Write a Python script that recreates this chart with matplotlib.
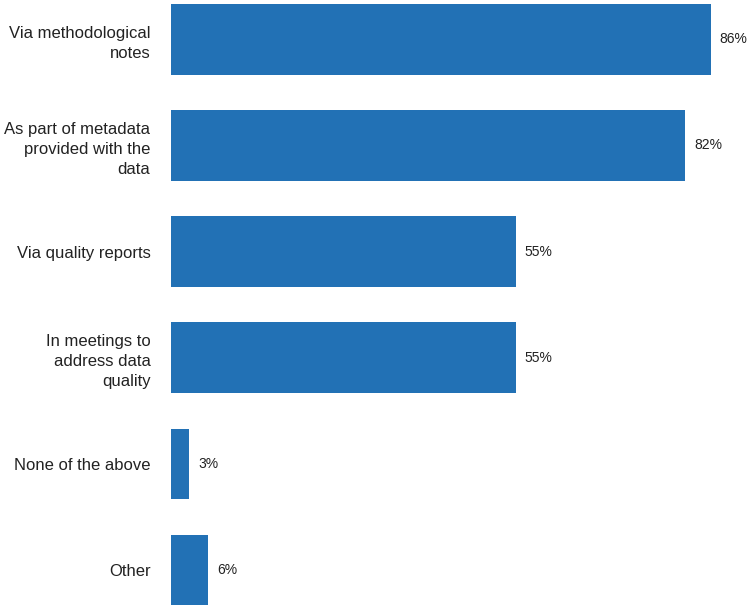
import matplotlib

matplotlib.use("Agg")
import matplotlib.pyplot as plt

categories = [
    "Via methodological\nnotes",
    "As part of metadata\nprovided with the\ndata",
    "Via quality reports",
    "In meetings to\naddress data\nquality",
    "None of the above",
    "Other",
]
shares = [86, 82, 55, 55, 3, 6]

plt.rcParams["font.family"] = ["Liberation Sans", "DejaVu Sans"]

fig = plt.figure(figsize=(7.47, 6.07), dpi=100)
ax = fig.add_axes([170.5 / 747, 0, 576.5 / 747, 1])

pos = list(range(len(categories)))
ax.barh(pos, shares, height=0.665, color="#2271b5")

for y, v in zip(pos, shares):
    ax.annotate(f"{v}%", (v, y), xytext=(6.5, 0), textcoords="offset points",
                ha="left", va="center", fontsize=10, color="#222222")

ax.set_xlim(0, 576.5 / 6.28)
ax.set_ylim(5.349, -0.370)
ax.set_yticks(pos)
ax.set_yticklabels(categories, fontsize=12, color="#222222", linespacing=1.4,
                   ha="right")
ax.tick_params(axis="y", length=0, pad=14.4)
ax.set_xticks([])
for s in ax.spines.values():
    s.set_visible(False)

fig.savefig("out.png", dpi=100)
